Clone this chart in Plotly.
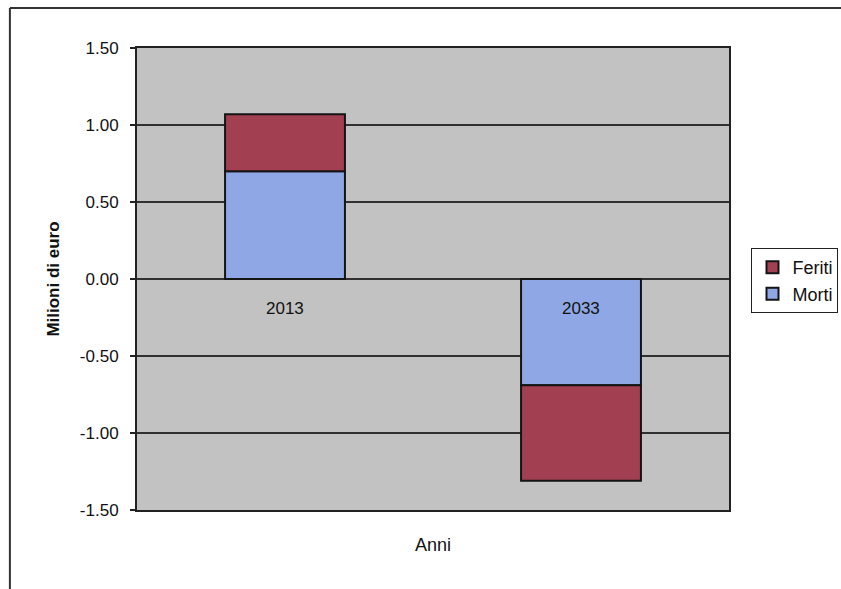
import plotly.graph_objects as go

# Data: road-accident social costs (millions of euro) by year
anni = ["2013", "2033"]
morti = [0.70, -0.69]
feriti = [0.37, -0.62]

y_ticks = [1.5, 1.0, 0.5, 0.0, -0.5, -1.0, -1.5]
y_ticktext = [f"{v:.2f}" for v in y_ticks]

FONT = "Arial, Liberation Sans, sans-serif"
COL_MORTI = "#8fa7e4"
COL_FERITI = "#a23f50"
EDGE = "#141414"

fig = go.Figure()
fig.add_trace(go.Bar(
    x=anni, y=morti, name="Morti",
    marker=dict(color=COL_MORTI, line=dict(color=EDGE, width=2)),
))
fig.add_trace(go.Bar(
    x=anni, y=feriti, name="Feriti",
    marker=dict(color=COL_FERITI, line=dict(color=EDGE, width=2)),
))

# Category labels sit next to the zero line, as the axis crosses at 0
for i, a in enumerate(anni):
    fig.add_annotation(x=i, y=0, text=a, showarrow=False, yshift=-29,
                       font=dict(family=FONT, size=17, color="#111"))

fig.update_layout(
    width=841, height=589,
    margin=dict(l=137, r=112, t=48, b=79, autoexpand=False),
    barmode="relative", bargap=0.595,
    paper_bgcolor="white", plot_bgcolor="#c2c2c2",
    font=dict(family=FONT, color="#111"),
    showlegend=True,
    legend=dict(
        x=1.038, y=0.567, xanchor="left", yanchor="top",
        traceorder="reversed",
        bgcolor="white", bordercolor="#222", borderwidth=1,
        font=dict(family=FONT, size=18, color="#111"),
        itemwidth=30, tracegroupgap=2,
    ),
    xaxis=dict(
        type="category", range=[-0.5, len(anni) - 0.5],
        showticklabels=False, ticks="",
        showline=True, mirror=True, linecolor="#222", linewidth=2,
        showgrid=False,
        title=dict(text="Anni", standoff=27, font=dict(family=FONT, size=18, color="#111")),
    ),
    yaxis=dict(
        range=[-1.5, 1.5], tickvals=y_ticks, ticktext=y_ticktext,
        ticks="outside", ticklen=5, tickcolor="#222", tickwidth=1.5,
        ticklabelstandoff=8,
        tickfont=dict(family=FONT, size=17, color="#111"),
        showline=True, mirror=True, linecolor="#222", linewidth=2,
        showgrid=True, gridcolor="#303030", gridwidth=1.5,
        zeroline=True, zerolinecolor="#303030", zerolinewidth=1.5,
        title=dict(text="<b>Milioni di euro</b>", standoff=16,
                   font=dict(family=FONT, size=17, color="#111")),
    ),
    shapes=[
        # outer chart frame (left and top edges)
        dict(type="line", xref="paper", yref="paper",
             x0=-0.2147, x1=-0.2147, y0=-0.2, y1=1.0866,
             line=dict(color="#333", width=2)),
        dict(type="line", xref="paper", yref="paper",
             x0=-0.2147, x1=1.25, y0=1.0866, y1=1.0866,
             line=dict(color="#333", width=2)),
    ],
)

fig.write_html("out.html")
